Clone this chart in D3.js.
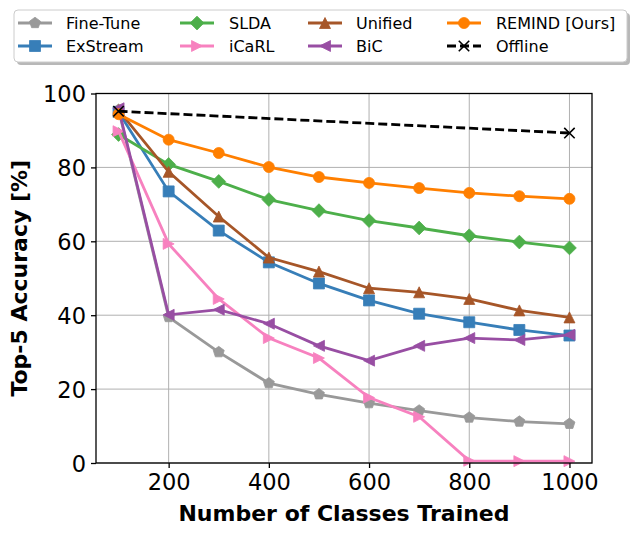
<!DOCTYPE html>
<html><head><meta charset="utf-8">
<script src="https://cdn.jsdelivr.net/npm/d3@7"></script>
<style>body{margin:0;background:#fff;} text{font-family:"DejaVu Sans",sans-serif;}</style>
</head><body>
<svg id="c" width="635" height="535"></svg>
<script>
const classes = [100,200,300,400,500,600,700,800,900,1000];
const fineTune = [95.6,39.5,30.0,21.6,18.6,16.2,14.2,12.3,11.2,10.6];
const exStream = [95.0,73.5,62.9,54.3,48.6,44.0,40.4,38.1,36.0,34.5];
const slda     = [88.9,80.8,76.2,71.3,68.3,65.6,63.6,61.5,59.8,58.2];
const icarl    = [89.8,59.3,44.4,33.8,28.4,17.7,12.5,0.6,0.5,0.5];
const unified  = [95.5,78.8,66.7,55.6,51.8,47.3,46.2,44.4,41.3,39.4];
const bic      = [96.0,40.1,41.5,37.7,31.7,27.7,31.7,33.8,33.3,34.7];
const remind   = [94.4,87.5,83.9,80.1,77.4,75.8,74.4,73.1,72.2,71.5];
const offlineX = [100,1000];
const offline  = [95.2,89.3];
const xTicks = [200,400,600,800,1000];
const yTicks = [0,20,40,60,80,100];

const series = [
  {name:"Fine-Tune", x:classes, y:fineTune, color:"#999999", marker:"pentagon"},
  {name:"ExStream", x:classes, y:exStream, color:"#377eb8", marker:"square"},
  {name:"SLDA", x:classes, y:slda, color:"#4daf4a", marker:"diamond"},
  {name:"iCaRL", x:classes, y:icarl, color:"#f781bf", marker:"right"},
  {name:"Unified", x:classes, y:unified, color:"#a65628", marker:"up"},
  {name:"BiC", x:classes, y:bic, color:"#984ea3", marker:"left"},
  {name:"REMIND [Ours]", x:classes, y:remind, color:"#ff7f00", marker:"circle"},
  {name:"Offline", x:offlineX, y:offline, color:"#000000", marker:"x", dash:"9,4"}
];

const svg = d3.select("#c");
const L=96, R=592, T=93.5, B=463;
const x = d3.scaleLinear().domain([55,1045]).range([L,R]);
const y = d3.scaleLinear().domain([0,100]).range([B,T]);

// grid
const g = svg.append("g");
xTicks.forEach(t=>g.append("line").attr("x1",x(t)).attr("x2",x(t)).attr("y1",T).attr("y2",B).attr("stroke","#b0b0b0").attr("stroke-width",1));
yTicks.forEach(t=>g.append("line").attr("x1",L).attr("x2",R).attr("y1",y(t)).attr("y2",y(t)).attr("stroke","#b0b0b0").attr("stroke-width",1));

function markerPath(type, s){
  const h=s/2;
  switch(type){
    case "circle": return d3.symbol(d3.symbolCircle, Math.PI*h*h)();
    case "square": return `M${-h},${-h}H${h}V${h}H${-h}Z`;
    case "diamond": {const d=h*1.25; return `M0,${-d}L${d},0L0,${d}L${-d},0Z`;}
    case "up": return `M0,${-h}L${h},${h}L${-h},${h}Z`;
    case "right": return `M${h},0L${-h},${-h}L${-h},${h}Z`;
    case "left": return `M${-h},0L${h},${-h}L${h},${h}Z`;
    case "pentagon": {
      let p=""; for(let i=0;i<5;i++){const a=-Math.PI/2+i*2*Math.PI/5; p+=(i?"L":"M")+(h*1.05*Math.cos(a)).toFixed(2)+","+(h*1.05*Math.sin(a)).toFixed(2);} return p+"Z";}
    case "x": {const d=h*0.95; return `M${-d},${-d}L${d},${d}M${-d},${d}L${d},${-d}`;}
  }
}
function drawMarker(sel, type, color, cx, cy, s){
  const p = sel.append("path").attr("d", markerPath(type,s)).attr("transform",`translate(${cx},${cy})`);
  if(type==="x") p.attr("fill","none").attr("stroke",color).attr("stroke-width",1.6);
  else p.attr("fill",color).attr("stroke",color).attr("stroke-width",0.8);
}

const plot = svg.append("g");
series.forEach(s=>{
  const pts = s.x.map((v,i)=>[v,s.y[i]]);
  const line = d3.line().x(d=>x(d[0])).y(d=>y(d[1]));
  plot.append("path").datum(pts).attr("d",line).attr("fill","none")
    .attr("stroke",s.color).attr("stroke-width",2.8)
    .attr("stroke-dasharray",s.dash||null);
  pts.forEach(d=>drawMarker(plot, s.marker, s.color, x(d[0]), y(d[1]), 11));
});

// spines
svg.append("rect").attr("x",L).attr("y",T).attr("width",R-L).attr("height",B-T).attr("fill","none").attr("stroke","#000").attr("stroke-width",1.3);

// axes ticks
const xAxis = svg.append("g").attr("transform",`translate(0,${B})`)
  .call(d3.axisBottom(x).tickValues(xTicks).tickFormat(d3.format("d")).tickSize(5).tickPadding(6));
const yAxis = svg.append("g").attr("transform",`translate(${L},0)`)
  .call(d3.axisLeft(y).tickValues(yTicks).tickFormat(d3.format("d")).tickSize(5).tickPadding(5));
[xAxis,yAxis].forEach(a=>{
  a.select(".domain").remove();
  a.selectAll("line").attr("stroke","#000").attr("stroke-width",1.3);
  a.selectAll("text").attr("font-size","22.5px").attr("fill","#000").style("font-family","DejaVu Sans");
});
yAxis.selectAll("text").attr("dy","0.36em");

svg.append("text").attr("x",(L+R)/2).attr("y",521).attr("text-anchor","middle")
  .attr("font-size","22px").attr("font-weight","bold").text("Number of Classes Trained");
svg.append("text").attr("transform",`translate(27,${(T+B)/2}) rotate(-90)`).attr("text-anchor","middle")
  .attr("font-size","22px").attr("font-weight","bold").text("Top-5 Accuracy [%]");

// legend
const lg = svg.append("g");
lg.append("rect").attr("x",17).attr("y",13).attr("width",613).attr("height",52).attr("rx",4).attr("fill","#888").attr("opacity",0.6);
lg.append("rect").attr("x",14).attr("y",10).attr("width",613).attr("height",52).attr("rx",4).attr("fill","#fff").attr("stroke","#cccccc").attr("stroke-width",1);
const colX = [18,180,308,447], textX=[66,229,356,496], rowY=[23,46];
series.forEach((s,i)=>{
  const c=Math.floor(i/2), r=i%2;
  const x0=colX[c], yy=rowY[r];
  lg.append("line").attr("x1",x0).attr("x2",x0+34).attr("y1",yy).attr("y2",yy)
    .attr("stroke",s.color).attr("stroke-width",2.8).attr("stroke-dasharray",s.dash?"9,4":null);
  drawMarker(lg, s.marker, s.color, x0+17, yy, 11);
  lg.append("text").attr("x",textX[c]).attr("y",yy).attr("dy","0.36em").attr("font-size","16px").text(s.name);
});
</script>
</body></html>
